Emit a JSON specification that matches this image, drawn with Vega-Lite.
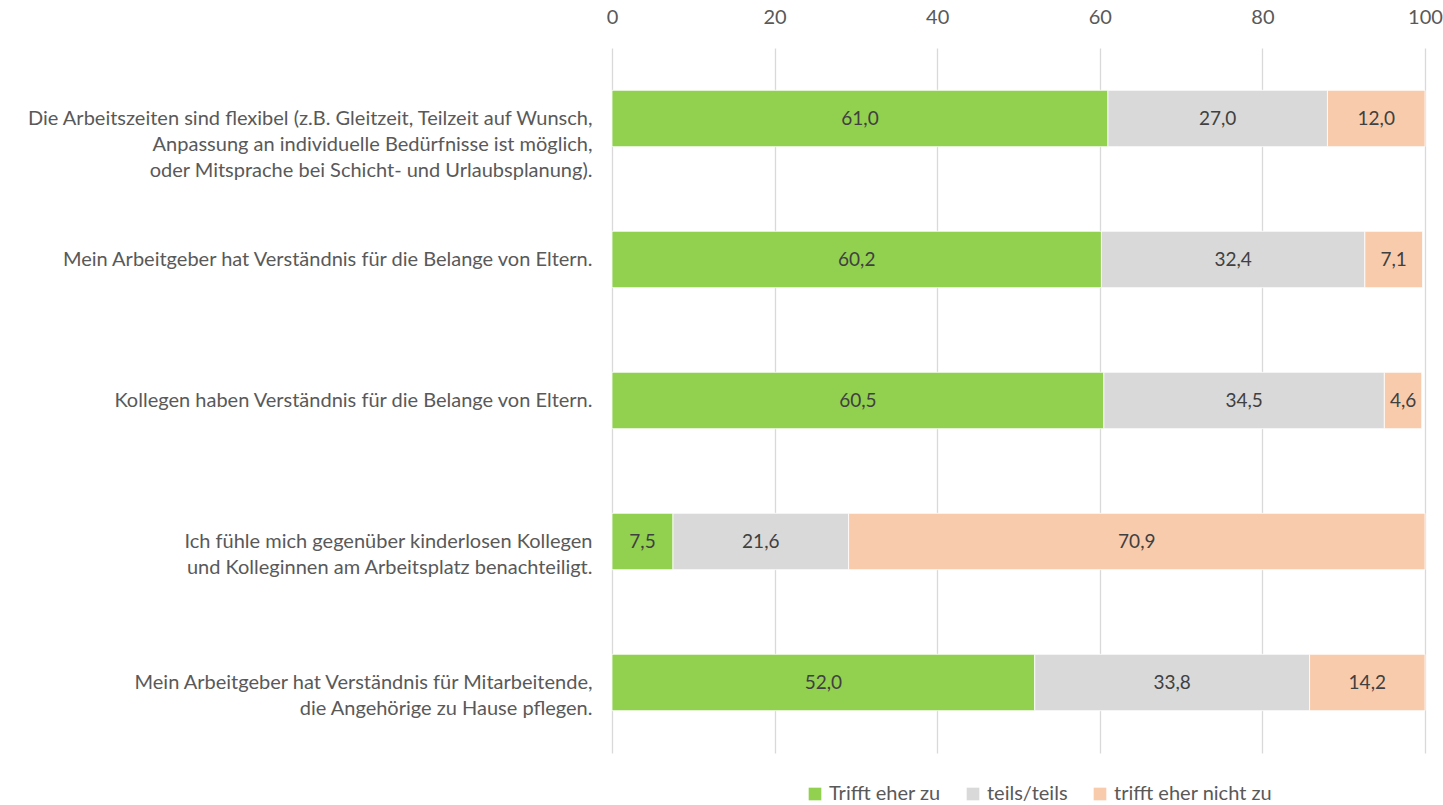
{
  "$schema": "https://vega.github.io/schema/vega-lite/v6.json",
  "width": 813,
  "height": 705,
  "autosize": {"type": "none"},
  "padding": {"left": 612, "top": 48, "right": 18, "bottom": 52},
  "background": "white",
  "config": {
    "locale": {"number": {"decimal": ",", "thousands": ".", "grouping": [3], "currency": ["", " €"]}},
    "font": "Lato",
    "view": {"stroke": null}
  },
  "data": {
    "values": [
      {"item": "Die Arbeitszeiten sind flexibel (z.B. Gleitzeit, Teilzeit auf Wunsch,|Anpassung an individuelle Bedürfnisse ist möglich,|oder Mitsprache bei Schicht- und Urlaubsplanung).", "cat": "Trifft eher zu", "o": 1, "value": 61.0},
      {"item": "Die Arbeitszeiten sind flexibel (z.B. Gleitzeit, Teilzeit auf Wunsch,|Anpassung an individuelle Bedürfnisse ist möglich,|oder Mitsprache bei Schicht- und Urlaubsplanung).", "cat": "teils/teils", "o": 2, "value": 27.0},
      {"item": "Die Arbeitszeiten sind flexibel (z.B. Gleitzeit, Teilzeit auf Wunsch,|Anpassung an individuelle Bedürfnisse ist möglich,|oder Mitsprache bei Schicht- und Urlaubsplanung).", "cat": "trifft eher nicht zu", "o": 3, "value": 12.0},
      {"item": "Mein Arbeitgeber hat Verständnis für die Belange von Eltern.", "cat": "Trifft eher zu", "o": 1, "value": 60.2},
      {"item": "Mein Arbeitgeber hat Verständnis für die Belange von Eltern.", "cat": "teils/teils", "o": 2, "value": 32.4},
      {"item": "Mein Arbeitgeber hat Verständnis für die Belange von Eltern.", "cat": "trifft eher nicht zu", "o": 3, "value": 7.1},
      {"item": "Kollegen haben Verständnis für die Belange von Eltern.", "cat": "Trifft eher zu", "o": 1, "value": 60.5},
      {"item": "Kollegen haben Verständnis für die Belange von Eltern.", "cat": "teils/teils", "o": 2, "value": 34.5},
      {"item": "Kollegen haben Verständnis für die Belange von Eltern.", "cat": "trifft eher nicht zu", "o": 3, "value": 4.6},
      {"item": "Ich fühle mich gegenüber kinderlosen Kollegen|und Kolleginnen am Arbeitsplatz benachteiligt.", "cat": "Trifft eher zu", "o": 1, "value": 7.5},
      {"item": "Ich fühle mich gegenüber kinderlosen Kollegen|und Kolleginnen am Arbeitsplatz benachteiligt.", "cat": "teils/teils", "o": 2, "value": 21.6},
      {"item": "Ich fühle mich gegenüber kinderlosen Kollegen|und Kolleginnen am Arbeitsplatz benachteiligt.", "cat": "trifft eher nicht zu", "o": 3, "value": 70.9},
      {"item": "Mein Arbeitgeber hat Verständnis für Mitarbeitende,|die Angehörige zu Hause pflegen.", "cat": "Trifft eher zu", "o": 1, "value": 52.0},
      {"item": "Mein Arbeitgeber hat Verständnis für Mitarbeitende,|die Angehörige zu Hause pflegen.", "cat": "teils/teils", "o": 2, "value": 33.8},
      {"item": "Mein Arbeitgeber hat Verständnis für Mitarbeitende,|die Angehörige zu Hause pflegen.", "cat": "trifft eher nicht zu", "o": 3, "value": 14.2}
    ]
  },
  "encoding": {
    "y": {
      "field": "item",
      "type": "nominal",
      "sort": null,
      "scale": {"paddingInner": 0.6, "paddingOuter": 0.3},
      "axis": {
        "title": null,
        "domain": false,
        "ticks": false,
        "grid": false,
        "labelExpr": "split(datum.label, '|')",
        "labelAlign": "right",
        "labelBaseline": "middle",
        "labelLineHeight": 26,
        "labelLimit": 0,
        "labelPadding": 20,
        "labelFontSize": 20,
        "labelColor": "#595959",
        "labelFont": "Lato"
      }
    },
    "x": {
      "field": "value",
      "type": "quantitative",
      "stack": "zero",
      "scale": {"domain": [0, 100], "nice": false},
      "axis": {
        "orient": "top",
        "title": null,
        "values": [0, 20, 40, 60, 80, 100],
        "domain": false,
        "ticks": false,
        "grid": true,
        "gridColor": "#d9d9d9",
        "gridWidth": 1.3,
        "labelFlush": false,
        "labelPadding": 21,
        "labelFontSize": 20,
        "labelColor": "#595959",
        "labelFont": "Lato"
      }
    },
    "order": {"field": "o", "type": "quantitative"}
  },
  "layer": [
    {
      "mark": {"type": "bar", "stroke": "white", "strokeWidth": 0.8},
      "encoding": {
        "color": {
          "field": "cat",
          "type": "nominal",
          "sort": ["Trifft eher zu", "teils/teils", "trifft eher nicht zu"],
          "scale": {"domain": ["Trifft eher zu", "teils/teils", "trifft eher nicht zu"], "range": ["#92D050", "#D9D9D9", "#F8CBAD"]},
          "legend": {
            "title": null,
            "orient": "none",
            "legendX": 193,
            "legendY": 736,
            "direction": "horizontal",
            "symbolType": "square",
            "symbolSize": 160,
            "symbolStrokeWidth": 0,
            "labelFontSize": 20,
            "labelColor": "#595959",
            "labelFont": "Lato",
            "labelOffset": 4,
            "columnPadding": 22
          }
        }
      }
    },
    {
      "mark": {"type": "text", "fontSize": 19, "color": "#404040", "font": "Lato", "baseline": "middle", "align": "center"},
      "encoding": {
        "x": {"field": "value", "type": "quantitative", "stack": "zero", "bandPosition": 0.5},
        "text": {"field": "value", "type": "quantitative", "format": ".1f"}
      }
    }
  ]
}
